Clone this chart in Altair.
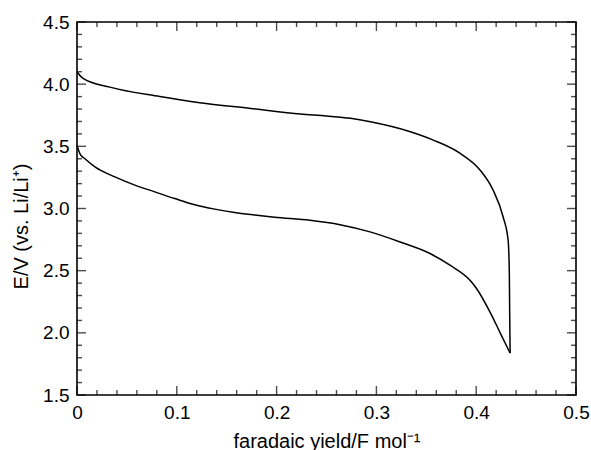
import altair as alt
import pandas as pd

# lower branch (discharge), from x=0 to the turning point
lower_x = [0.0, 0.003, 0.008, 0.018, 0.038, 0.058, 0.078, 0.098, 0.118, 0.138, 0.158,
           0.178, 0.198, 0.2335, 0.2635, 0.2936, 0.3237, 0.3537, 0.3737, 0.3938, 0.4005,
           0.414, 0.424, 0.434]
lower_y = [3.51, 3.44, 3.40, 3.335, 3.254, 3.188, 3.134, 3.08, 3.03, 2.995, 2.968,
           2.948, 2.93, 2.905, 2.87, 2.812, 2.731, 2.638, 2.544, 2.423, 2.355,
           2.165, 2.0, 1.837]

# upper branch (charge), from x=0 to the turning point
upper_x = [0.0, 0.006, 0.033, 0.083, 0.123, 0.174, 0.224, 0.25, 0.274, 0.294, 0.334,
           0.357, 0.384, 0.404, 0.417, 0.427, 0.432, 0.4332, 0.4335, 0.434]
upper_y = [4.10, 4.047, 3.976, 3.90, 3.85, 3.805, 3.76, 3.744, 3.725, 3.697, 3.617,
           3.55, 3.443, 3.308, 3.147, 2.932, 2.745, 2.477, 2.2, 1.837]

x_major = [0.0, 0.1, 0.2, 0.3, 0.4, 0.5]
x_minor = [0.02, 0.04, 0.06, 0.08, 0.12, 0.14, 0.16, 0.18, 0.22, 0.24, 0.26, 0.28,
           0.32, 0.34, 0.36, 0.38, 0.42, 0.44, 0.46, 0.48]
y_major = [1.5, 2.0, 2.5, 3.0, 3.5, 4.0, 4.5]
y_minor = [1.6, 1.7, 1.8, 1.9, 2.1, 2.2, 2.3, 2.4, 2.6, 2.7, 2.8, 2.9, 3.1, 3.2, 3.3, 3.4,
           3.6, 3.7, 3.8, 3.9, 4.1, 4.2, 4.3, 4.4]

W, H = 499, 373
FONT = "Liberation Sans"

curve = pd.DataFrame({
    "x": lower_x + upper_x,
    "y": lower_y + upper_y,
    "branch": ["lower"] * len(lower_x) + ["upper"] * len(upper_x),
})

xs = alt.Scale(domain=[0, 0.5], nice=False, zero=False)
ys = alt.Scale(domain=[1.5, 4.5], nice=False, zero=False)

xaxis = alt.Axis(values=x_major, title="faradaic yield/F mol⁻¹",
                 labelExpr="datum.value == 0 ? '0' : format(datum.value, '.1f')",
                 labelFlush=False, titlePadding=9)
yaxis = alt.Axis(values=y_major, title="E/V (vs. Li/Li⁺)", format=".1f",
                 labelFlush=False, titlePadding=11, titleY=204)

line = alt.Chart(curve).mark_line(color="black", strokeWidth=1.5,
                                  interpolate="monotone").encode(
    x=alt.X("x:Q", scale=xs, axis=xaxis),
    y=alt.Y("y:Q", scale=ys, axis=yaxis),
    detail="branch:N",
)

MAJ, MIN, TH = 9, 5, 1.4


def xticks(vals, length, ydatum, sign):
    return alt.Chart(pd.DataFrame({"x": vals})).mark_tick(
        orient="vertical", size=length, thickness=TH, color="black",
        yOffset=sign * length / 2).encode(
        x=alt.X("x:Q", scale=xs, axis=xaxis),
        y=alt.YDatum(ydatum, scale=ys, axis=yaxis),
    )


def yticks(vals, length, xdatum, sign):
    return alt.Chart(pd.DataFrame({"y": vals})).mark_tick(
        orient="horizontal", size=length, thickness=TH, color="black",
        xOffset=sign * length / 2).encode(
        y=alt.Y("y:Q", scale=ys, axis=yaxis),
        x=alt.XDatum(xdatum, scale=xs, axis=xaxis),
    )


layers = [
    line,
    xticks(x_major, MAJ, 1.5, -1), xticks(x_minor, MIN, 1.5, -1),
    xticks(x_major, MAJ, 4.5, 1), xticks(x_minor, MIN, 4.5, 1),
    yticks(y_major, MAJ, 0.0, 1), yticks(y_minor, MIN, 0.0, 1),
    yticks(y_major, MAJ, 0.5, -1), yticks(y_minor, MIN, 0.5, -1),
]

chart = alt.layer(*layers).properties(
    width=W, height=H,
    autosize=alt.AutoSizeParams(type="none"),
    padding={"left": 77, "top": 22, "right": 15, "bottom": 55},
).configure_view(
    stroke="black", strokeWidth=1.6
).configure_axis(
    domain=False, ticks=False, tickSize=0, grid=False,
    labelFont=FONT, labelFontSize=19, labelColor="black", labelPadding=8,
    titleFont=FONT, titleFontSize=20, titleFontWeight="normal", titleColor="black",
)

chart.save("out.html", embed_options={"renderer": "svg", "actions": False})
